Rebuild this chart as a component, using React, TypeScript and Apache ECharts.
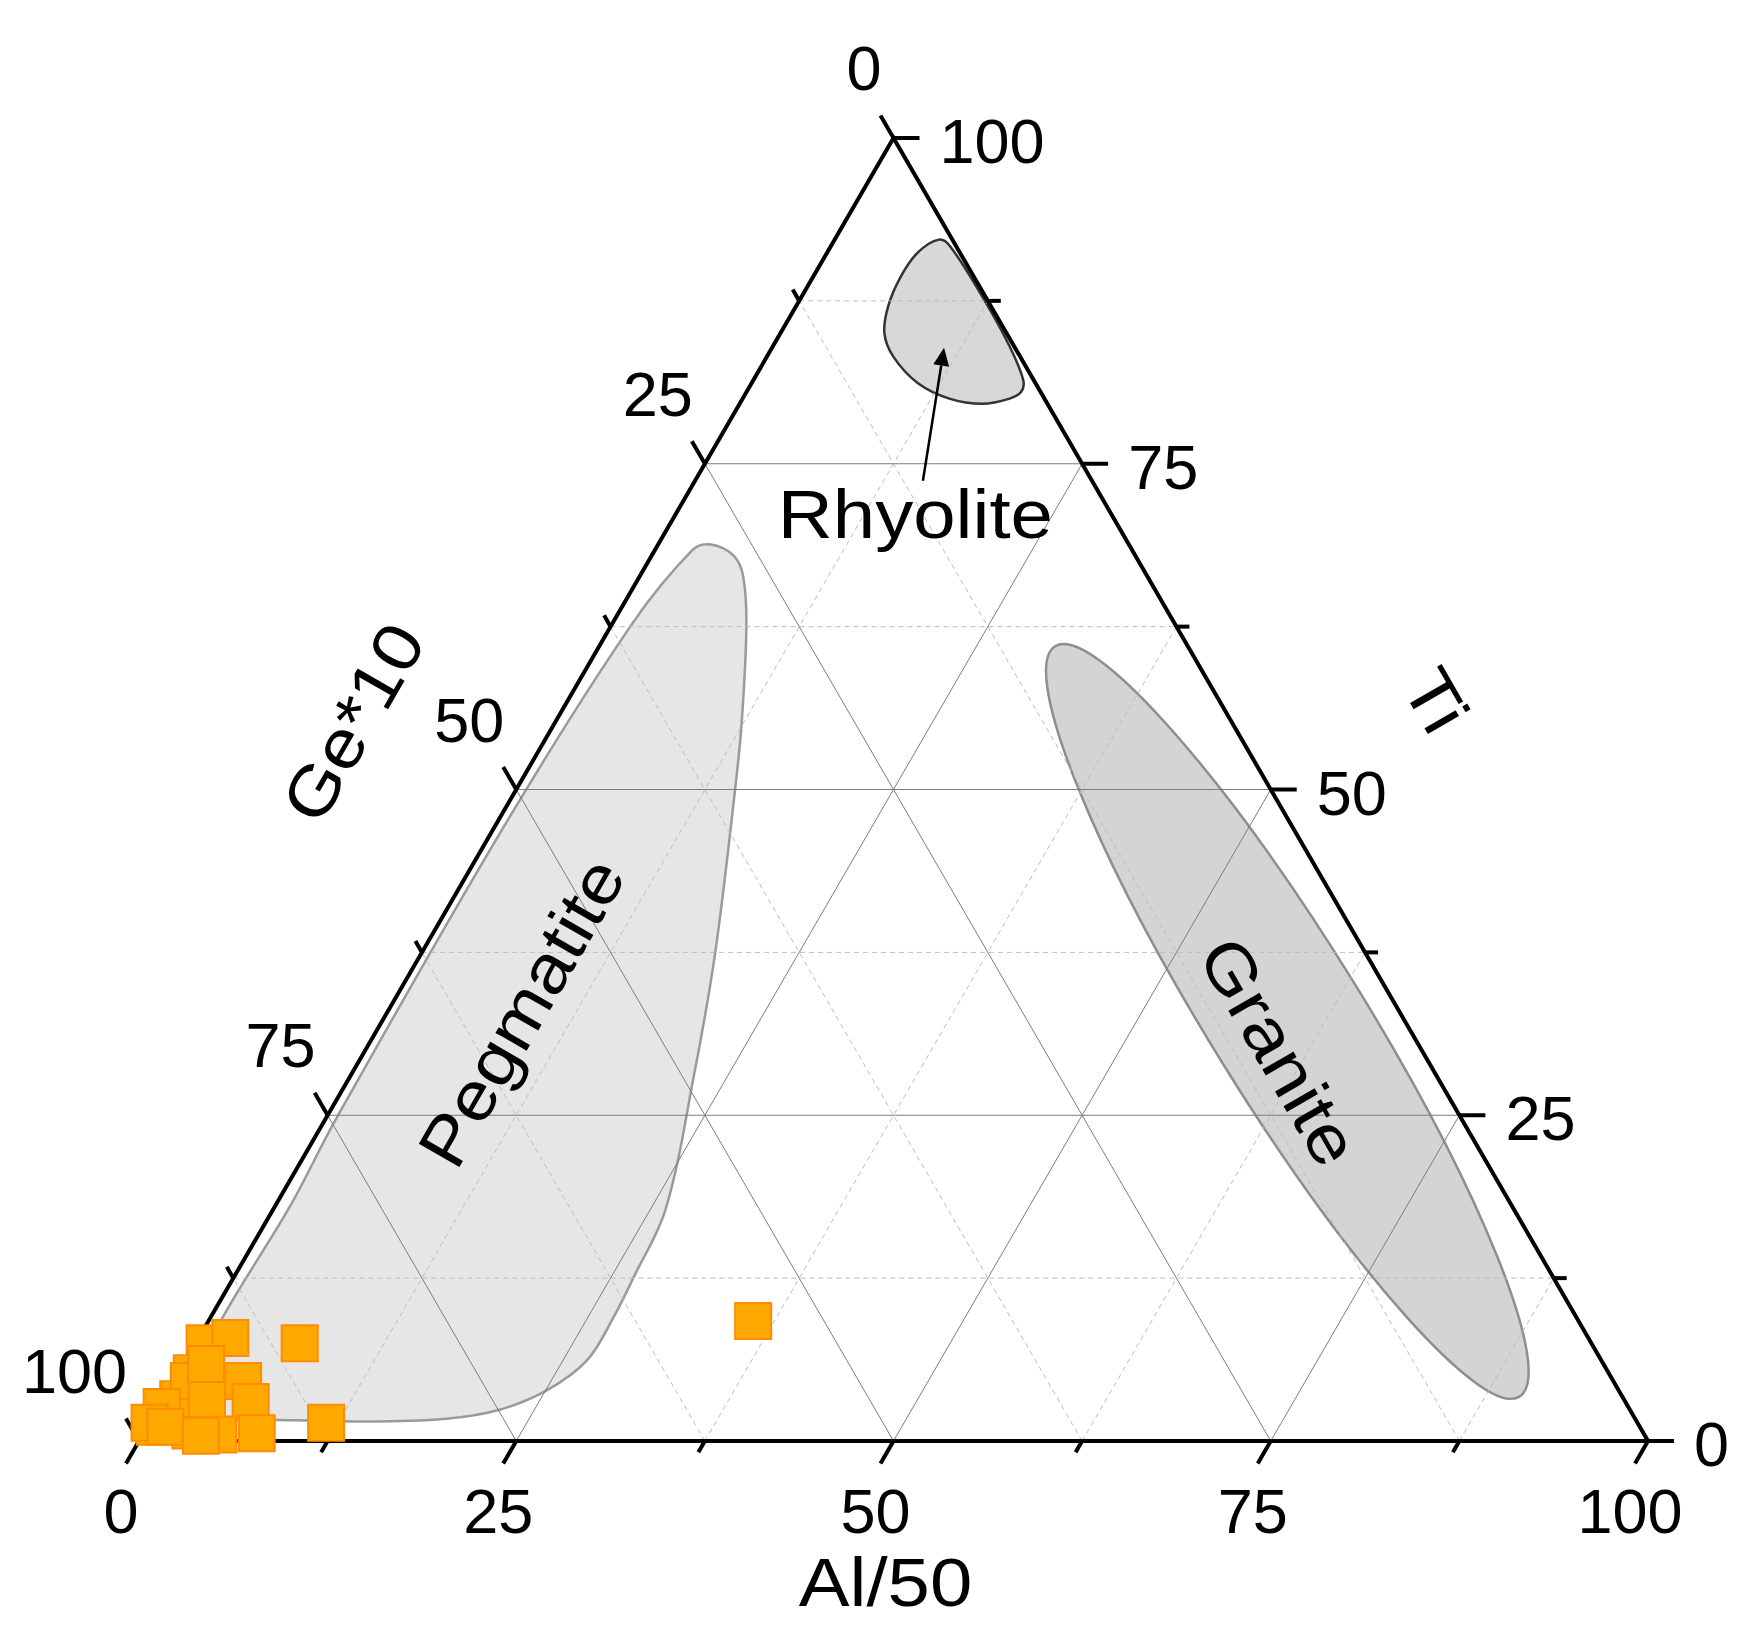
import React, { useEffect, useRef } from "react";
import * as echarts from "echarts";

// Sample compositions in ternary percent: Al/50, Ti (Ge*10 = 100 - Al - Ti)
const sampleAl = [0.6, 2.1, 6.9, 11.7, 4.6, 5.9, 7.5, 5.0, 3.0, 0.5, 1.0, 0.9, 1.0, 2.9, 0.2, 0.0, 1.2, 1.5, 3.9, 36.1];
const sampleTi = [7.5, 7.9, 7.5, 1.4, 4.6, 3.0, 0.6, 0.5, 0.8, 1.1, 3.2, 5.2, 4.6, 3.2, 2.6, 1.4, 1.1, 5.9, 0.4, 9.2];

// Field outlines as [Al, Ti]
const pegmatiteOutline: [number, number][] = [
  [3.5, 68.8], [5.5, 67.9], [6.9, 66.3], [9.0, 62.5], [12.3, 55.3], [14.3, 50.5],
  [19.4, 37.6], [22.7, 28.2], [26.0, 17.8], [26.5, 12.5], [26.7, 9.5], [26.6, 6.2],
  [25.1, 3.9], [22.7, 2.4], [19.5, 1.7], [15.2, 1.5], [9.2, 1.6], [5.0, 1.8],
  [2.6, 2.8], [1.1, 6.0], [0.8, 10.0], [1.0, 18.0], [0.7, 24.7], [0.6, 47.0],
  [1.3, 62.5], [2.5, 68.4],
];
// Granite field: ellipse given by centre, end of major axis, end of minor axis ([Al, Ti])
const graniteCentre: [number, number] = [60.0, 32.2];
const graniteMajorEnd: [number, number] = [30.2, 61.0];
const graniteMinorEnd: [number, number] = [62.8, 35.3];
const rhyoliteOutline: [number, number][] = [
  [6.9, 92.2], [7.9, 91.7], [12.2, 87.6], [15.7, 84.0], [17.9, 81.4], [18.2, 80.5],
  [17.7, 80.0], [16.1, 79.6], [13.7, 80.0], [11.0, 81.2], [8.4, 83.2], [6.9, 85.0],
  [6.1, 87.1], [5.8, 89.4], [6.0, 91.2],
];
const rhyoliteArrow: [number, number][] = [[15.1, 73.7], [11.4, 83.9]];

const majorTicks = [0, 25, 50, 75, 100];
const minorTicks = [12.5, 37.5, 62.5, 87.5];
const majorGrid = [25, 50, 75];
const minorGrid = [12.5, 37.5, 62.5, 87.5];
const tickLabels = ["0", "25", "50", "75", "100"];

const regionLabels = [
  { text: "Pegmatite", al: 8.9, ti: 32.9, rot: 60 },
  { text: "Granite", al: 60.6, ti: 29.9, rot: -60 },
  { text: "Rhyolite", al: 15.9, ti: 71.1, rot: 0 },
];

const FONT = "'Liberation Sans', Arial, sans-serif";
const TITLE_SIZE = 68;
const TITLE_STRETCH = 1.12;
const TICK_SIZE = 63;

// ternary [Al, Ti] -> cartesian [x, y] on a 0..100 grid
const T = (al: number, ti: number): [number, number] => [al + ti / 2, ti];

function regionSeries(outline: [number, number][], fill: string, stroke: string) {
  return {
    type: "custom",
    coordinateSystem: "cartesian2d",
    data: [[0, 0]],
    clip: false,
    silent: true,
    z: 1,
    renderItem: (_p: any, api: any) => ({
      type: "polygon",
      shape: { points: outline.map(([a, t]) => api.coord(T(a, t))), smooth: 0.35 },
      style: { fill, stroke, lineWidth: 2.5 },
    }),
  };
}

function graniteSeries() {
  return {
    type: "custom",
    coordinateSystem: "cartesian2d",
    data: [[0, 0]],
    clip: false,
    silent: true,
    z: 1,
    renderItem: (_p: any, api: any) => {
      const c = api.coord(T(graniteCentre[0], graniteCentre[1]));
      const m = api.coord(T(graniteMajorEnd[0], graniteMajorEnd[1]));
      const k = api.coord(T(graniteMinorEnd[0], graniteMinorEnd[1]));
      const rx = Math.hypot(m[0] - c[0], m[1] - c[1]);
      const ry = Math.hypot(k[0] - c[0], k[1] - c[1]);
      const phi = Math.atan2(m[1] - c[1], m[0] - c[0]);
      return {
        type: "ellipse",
        x: c[0],
        y: c[1],
        rotation: -phi,
        shape: { cx: 0, cy: 0, rx, ry },
        style: { fill: "#d4d4d4", stroke: "#8e8e8e", lineWidth: 2.5 },
      };
    },
  };
}

function txt(text: string, x: number, y: number, size: number, align = "center", rotation = 0, stretch = 1) {
  return {
    type: "text",
    x,
    y,
    rotation,
    scaleX: stretch,
    style: { text, fontSize: size, fontFamily: FONT, fill: "#000", align, verticalAlign: "middle" },
  };
}

function frameRender(_p: any, api: any) {
  const P = (al: number, ti: number) => api.coord(T(al, ti));
  const ch: any[] = [];
  const gl = (a: number[], b: number[], major: boolean) =>
    ch.push({
      type: "line",
      shape: { x1: a[0], y1: a[1], x2: b[0], y2: b[1] },
      style: major
        ? { stroke: "#7d7d7d", lineWidth: 1 }
        : { stroke: "#bdbdbd", lineWidth: 1, lineDash: [5, 4] },
    });
  minorGrid.forEach((v) => {
    gl(P(v, 0), P(v, 100 - v), false);
    gl(P(0, v), P(100 - v, v), false);
    gl(P(100 - v, 0), P(0, 100 - v), false);
  });
  majorGrid.forEach((v) => {
    gl(P(v, 0), P(v, 100 - v), true);
    gl(P(0, v), P(100 - v, v), true);
    gl(P(100 - v, 0), P(0, 100 - v), true);
  });
  // triangle edges
  ch.push({
    type: "polygon",
    shape: { points: [P(0, 0), P(100, 0), P(0, 100)] },
    style: { fill: "none", stroke: "#000", lineWidth: 4, lineJoin: "miter" },
  });
  const tick = (p: number[], d: number[], len: number) =>
    ch.push({
      type: "line",
      shape: { x1: p[0], y1: p[1], x2: p[0] + d[0] * len, y2: p[1] + d[1] * len },
      style: { stroke: "#000", lineWidth: 4 },
    });
  const dB = [-0.5, 0.866];
  const dL = [-0.5, -0.866];
  const dR = [1, 0];
  majorTicks.forEach((t, i) => {
    const pb = P(t, 0);
    const pl = P(0, 100 - t);
    const pr = P(100 - t, t);
    tick(pb, dB, 26);
    tick(pl, dL, 26);
    tick(pr, dR, 26);
    ch.push(txt(tickLabels[i], pb[0] - 18, pb[1] + 70, TICK_SIZE, "center"));
    ch.push(txt(tickLabels[i], pl[0] - 12, pl[1] - 70, TICK_SIZE, "right"));
    ch.push(txt(tickLabels[i], pr[0] + 46, pr[1] + 3, TICK_SIZE, "left"));
  });
  minorTicks.forEach((t) => {
    tick(P(t, 0), dB, 13);
    tick(P(0, 100 - t), dL, 13);
    tick(P(100 - t, t), dR, 13);
  });
  // axis titles
  const pa = P(50, 0);
  ch.push(txt("Al/50", pa[0] - 8, pa[1] + 141, TITLE_SIZE, "center", 0, TITLE_STRETCH));
  const pg = P(0, 50);
  ch.push(txt("Ge*10", pg[0] - 163, pg[1] - 67, TITLE_SIZE, "center", Math.PI / 3, TITLE_STRETCH));
  const pt = P(50, 50);
  ch.push(txt("Ti", pt[0] + 165, pt[1] - 89, TITLE_SIZE, "center", -Math.PI / 3, TITLE_STRETCH));
  return { type: "group", children: ch };
}

function labelRender(_p: any, api: any) {
  const P = (al: number, ti: number) => api.coord(T(al, ti));
  const ch: any[] = [];
  regionLabels.forEach((l) => {
    const p = P(l.al, l.ti);
    ch.push(txt(l.text, p[0], p[1], TITLE_SIZE, "center", (l.rot * Math.PI) / 180, TITLE_STRETCH));
  });
  const a = P(rhyoliteArrow[0][0], rhyoliteArrow[0][1]);
  const b = P(rhyoliteArrow[1][0], rhyoliteArrow[1][1]);
  const dx = b[0] - a[0];
  const dy = b[1] - a[1];
  const L = Math.hypot(dx, dy);
  const ux = dx / L;
  const uy = dy / L;
  const hl = 18;
  const hw = 8;
  const bx = b[0] - ux * hl;
  const by = b[1] - uy * hl;
  ch.push({
    type: "line",
    shape: { x1: a[0], y1: a[1], x2: bx, y2: by },
    style: { stroke: "#000", lineWidth: 2.5 },
  });
  ch.push({
    type: "polygon",
    shape: { points: [[b[0], b[1]], [bx - uy * hw, by + ux * hw], [bx + uy * hw, by - ux * hw]] },
    style: { fill: "#000" },
  });
  return { type: "group", children: ch };
}

export default function App() {
  const ref = useRef<HTMLDivElement>(null);
  useEffect(() => {
    const chart = echarts.init(ref.current!, null, { renderer: "svg" });
    const samples = sampleAl.map((a, i) => T(a, sampleTi[i]));
    chart.setOption({
      animation: false,
      backgroundColor: "#fff",
      grid: { left: 139, top: 138, width: 1509, height: 1303 },
      xAxis: { type: "value", min: 0, max: 100, show: false },
      yAxis: { type: "value", min: 0, max: 100, show: false },
      series: [
        regionSeries(pegmatiteOutline, "#e6e6e6", "#9a9a9a"),
        graniteSeries(),
        regionSeries(rhyoliteOutline, "#d8d8d8", "#333333"),
        {
          type: "custom",
          coordinateSystem: "cartesian2d",
          data: [[0, 0]],
          clip: false,
          silent: true,
          z: 2,
          renderItem: frameRender,
        },
        {
          type: "custom",
          coordinateSystem: "cartesian2d",
          data: [[0, 0]],
          clip: false,
          silent: true,
          z: 3,
          renderItem: labelRender,
        },
        {
          type: "scatter",
          data: samples,
          symbol: "rect",
          symbolSize: 36,
          clip: false,
          z: 5,
          itemStyle: { color: "#ffa800", borderColor: "#ff8c00", borderWidth: 2, opacity: 1 },
        },
      ],
    });
    return () => chart.dispose();
  }, []);
  return (
    <div
      ref={ref}
      style={{ position: "absolute", left: 0, top: 0, width: 1755, height: 1641, background: "#fff" }}
    />
  );
}
